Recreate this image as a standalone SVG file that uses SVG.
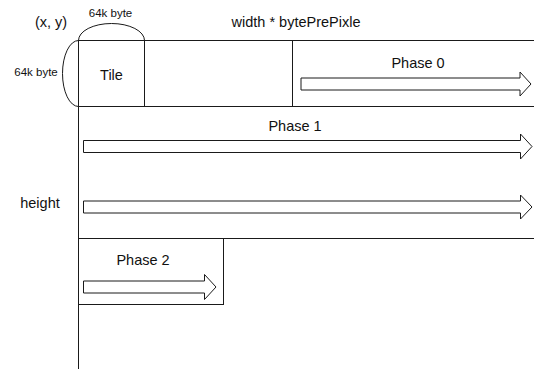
<svg xmlns="http://www.w3.org/2000/svg" width="534" height="369" viewBox="0 0 534 369">
<style>
.ln{fill:none;stroke:#1a1a1a;stroke-width:1}
.box{fill:#fff;stroke:#1a1a1a;stroke-width:1}
.arw{fill:#fff;stroke:#1a1a1a;stroke-width:1;stroke-linejoin:miter}
.t{font-family:"Liberation Sans",Arial,Helvetica,sans-serif;font-size:14.5px;fill:#111;text-anchor:middle}
.s{font-family:"Liberation Sans",Arial,Helvetica,sans-serif;font-size:11.5px;fill:#111;text-anchor:middle}
</style>
<rect width="534" height="369" fill="#fff"/>
<g id="frame">
<line class="ln" x1="78.5" y1="40.5" x2="534" y2="40.5"/>
<line class="ln" x1="78.5" y1="106.5" x2="534" y2="106.5"/>
<line class="ln" x1="78.5" y1="238.5" x2="534" y2="238.5"/>
<line class="ln" x1="78.5" y1="40.5" x2="78.5" y2="369"/>
<line class="ln" x1="292.5" y1="40.5" x2="292.5" y2="106.5"/>
</g>
<g id="tile">
<rect class="box" x="78.5" y="40.5" width="66" height="66"/>
<path class="ln" d="M78.5,40.5 A33,17 0 0 1 144.5,40.5"/>
<path class="ln" d="M78.5,40.5 A16,33 0 0 0 78.5,106.5"/>
<text class="t" x="111.5" y="80">Tile</text>
<text class="s" x="110.5" y="17">64k byte</text>
<text class="s" x="36" y="76">64k byte</text>
</g>
<g id="labels">
<text class="t" x="51" y="27">(x, y)</text>
<text class="t" x="296" y="27">width * bytePrePixle</text>
<text class="t" x="40" y="208">height</text>
</g>
<g id="phase0">
<text class="t" x="418" y="68">Phase 0</text>
</g>
<g id="phase1">
<text class="t" x="295" y="131">Phase 1</text>
</g>
<g id="phase2">
<rect class="box" x="78.5" y="238.5" width="145" height="66"/>
<text class="t" x="143" y="265">Phase 2</text>
</g>
<g id="connectors">
<polygon class="arw" points="301,78 520,78 520,72 531,84 520,96 520,90 301,90"/>
<polygon class="arw" points="83.5,140.5 520.5,140.5 520.5,134 532,146.5 520.5,159 520.5,152.5 83.5,152.5"/>
<polygon class="arw" points="83.5,201 520.5,201 520.5,195 532,207 520.5,219 520.5,213 83.5,213"/>
<polygon class="arw" points="83.5,281 204.5,281 204.5,274.5 216,287 204.5,299.5 204.5,293 83.5,293"/>
</g>
</svg>
